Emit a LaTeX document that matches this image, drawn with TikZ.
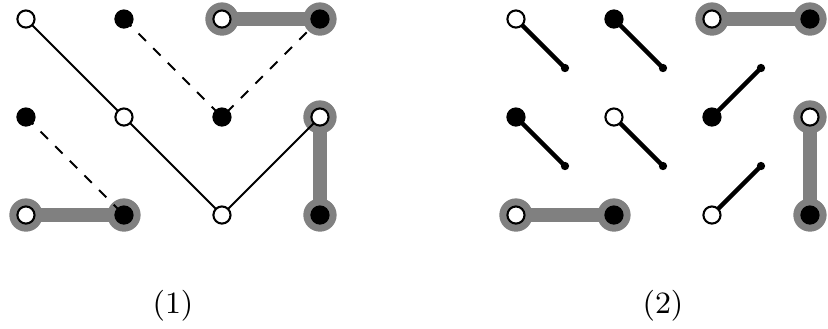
\documentclass[tikz,border=0pt]{standalone}
\usepackage{tikz}
\usetikzlibrary{positioning}

\begin{document}
\begin{tikzpicture}[
    wpt/.style={circle, draw, fill=white, inner sep=0pt, minimum size=1.75mm, line width=0.6pt},
    bpt/.style={circle, draw, fill=black, inner sep=0pt, minimum size=1.75mm, line width=0.6pt},
    halo/.style={circle, fill=gray, inner sep=0pt, minimum size=3.4mm},
    pairline/.style={gray, line width=1.35mm},
    pathline/.style={line width=0.55pt},
    tipdot/.style={circle, fill=black, inner sep=0pt, minimum size=0.85mm},
    stub/.style={line width=1.3pt},
    caption/.style={font=\small},
]
\useasboundingbox (-0.265,-1.153) rectangle (8.184,2.194);

% grid points of both panels
\foreach \x in {0,...,3}
  \foreach \y in {0,1,2} {
    \coordinate (a\x\y) at (\x,\y);
    \coordinate (b\x\y) at (\x+5,\y);
  }

% =============================================
% halos and matched pairs
% =============================================
\foreach \p in {a,b} {
  \node[halo] at (\p22) {};
  \node[halo] at (\p32) {};
  \node[halo] at (\p31) {};
  \node[halo] at (\p30) {};
  \node[halo] at (\p00) {};
  \node[halo] at (\p10) {};
  \draw[pairline] (\p22) -- (\p32);
  \draw[pairline] (\p31) -- (\p30);
  \draw[pairline] (\p00) -- (\p10);
}

% =============================================
% LEFT: (1) paths
% =============================================
\draw[pathline] (a02) -- (a11) -- (a20) -- (a31);
\draw[pathline, dashed] (a12) -- (a21) -- (a32);
\draw[pathline, dashed] (a01) -- (a10);

% =============================================
% RIGHT: (2) half edges
% =============================================
\coordinate (t1) at (5.5,1.5);
\coordinate (t2) at (6.5,1.5);
\coordinate (t3) at (7.5,1.5);
\coordinate (t4) at (5.5,0.5);
\coordinate (t5) at (6.5,0.5);
\coordinate (t6) at (7.5,0.5);

\draw[stub] (b02) -- (t1);
\draw[stub] (b12) -- (t2);
\draw[stub] (b21) -- (t3);
\draw[stub] (b01) -- (t4);
\draw[stub] (b11) -- (t5);
\draw[stub] (b20) -- (t6);
\foreach \t in {t1,t2,t3,t4,t5,t6}
  \node[tipdot] at (\t) {};

% points
\foreach \p in {a,b} {
  \node[wpt] at (\p02) {};
  \node[bpt] at (\p12) {};
  \node[wpt] at (\p22) {};
  \node[bpt] at (\p32) {};
  \node[bpt] at (\p01) {};
  \node[wpt] at (\p11) {};
  \node[bpt] at (\p21) {};
  \node[wpt] at (\p31) {};
  \node[wpt] at (\p00) {};
  \node[bpt] at (\p10) {};
  \node[wpt] at (\p20) {};
  \node[bpt] at (\p30) {};
}

% captions
\node[caption] (cap1) at (1.5,-0.93) {(1)};
\node[caption] (cap2) at (6.5,-0.93) {(2)};

\end{tikzpicture}
\end{document}
